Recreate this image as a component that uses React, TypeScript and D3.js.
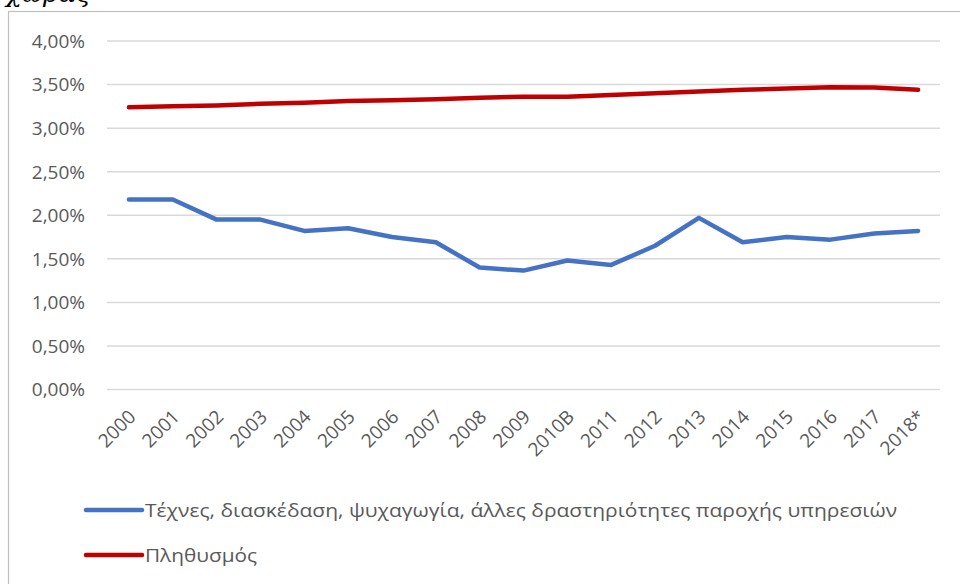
import React from "react";
import * as d3 from "d3";

const categories = ["2000","2001","2002","2003","2004","2005","2006","2007","2008","2009","2010B","2011","2012","2013","2014","2015","2016","2017","2018*"];
const artsValues = [2.18,2.18,1.95,1.95,1.82,1.85,1.75,1.69,1.40,1.365,1.48,1.43,1.65,1.97,1.69,1.75,1.72,1.79,1.82];
const populationValues = [3.24,3.25,3.26,3.28,3.29,3.31,3.32,3.33,3.35,3.36,3.36,3.38,3.40,3.42,3.44,3.455,3.47,3.465,3.44];
const yTicks = [0,0.5,1,1.5,2,2.5,3,3.5,4];
const seriesNames = ["Τέχνες, διασκέδαση, ψυχαγωγία, άλλες δραστηριότητες παροχής υπηρεσιών", "Πληθυσμός"];
const seriesColors = ["#4472C4", "#C00000"];
const legendWidths = [752, 112];

const FONT = "'Open Sans', 'Noto Sans', sans-serif";

export default function App() {
  const x = d3.scaleBand<string>().domain(categories).range([107, 940]).padding(0);
  const cx = (c: string) => (x(c) as number) + x.bandwidth() / 2;
  const y = d3.scaleLinear().domain([0, 4]).range([389.5, 41]);
  const fmt = (v: number) => v.toFixed(2).replace(".", ",") + "%";

  const line = d3
    .line<number>()
    .x((_, i) => cx(categories[i]))
    .y((d) => y(d));

  const series = [artsValues, populationValues];

  return (
    <svg
      width={960}
      height={584}
      style={{ position: "absolute", left: 0, top: 0, background: "#fff" }}
    >
      <rect x={0} y={0} width={960} height={584} fill="#fff" />
      <text x={6} y={2} fontFamily="'DejaVu Serif', 'Liberation Serif', serif" fontStyle="italic" fontSize={26} fill="#000">χώρας</text>
      <rect x={8.5} y={11.5} width={960} height={600} fill="none" stroke="#bfbfbf" strokeWidth={1.2} />
      {yTicks.map((t) => (
        <g key={t}>
          <line x1={107} x2={940} y1={y(t)} y2={y(t)} stroke="#d9d9d9" strokeWidth={1.5} />
          <text x={85} y={y(t)} dy="0.36em" textAnchor="end" fontFamily={FONT} fontSize={19} fill="#595959">
            {fmt(t)}
          </text>
        </g>
      ))}
      {categories.map((c) => (
        <text
          key={c}
          transform={`translate(${cx(c) + 8},${418}) rotate(-45)`}
          textAnchor="end"
          fontFamily={FONT}
          fontSize={19}
          fill="#595959"
        >
          {c}
        </text>
      ))}
      {series.map((s, i) => (
        <path
          key={i}
          d={line(s) as string}
          fill="none"
          stroke={seriesColors[i]}
          strokeWidth={4.5}
          strokeLinejoin="round"
          strokeLinecap="round"
        />
      ))}
      {seriesNames.map((n, i) => (
        <g key={n}>
          <line x1={86} x2={142} y1={510 + i * 45} y2={510 + i * 45} stroke={seriesColors[i]} strokeWidth={4.5} strokeLinecap="round" />
          <text
            x={145}
            y={510 + i * 45}
            dy="0.36em"
            fontFamily={FONT}
            fontSize={18.5}
            fill="#595959"
            textLength={legendWidths[i]}
            lengthAdjust="spacingAndGlyphs"
          >
            {n}
          </text>
        </g>
      ))}
    </svg>
  );
}
